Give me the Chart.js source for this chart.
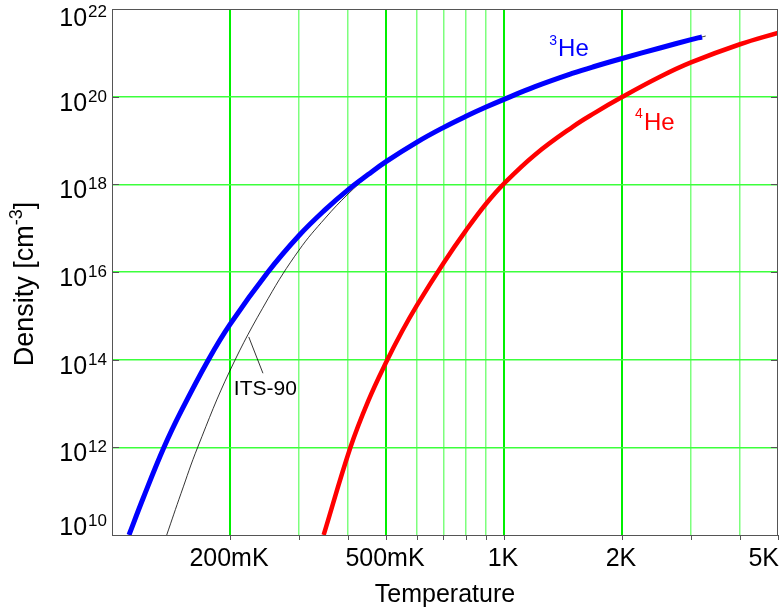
<!DOCTYPE html>
<html>
<head>
<meta charset="utf-8">
<script src="https://cdn.jsdelivr.net/npm/chart.js@4.4.1/dist/chart.umd.min.js"></script>
<style>
  html, body { margin: 0; padding: 0; background: #fff; }
  #wrap { width: 784px; height: 613px; }
</style>
</head>
<body>
<div id="wrap"><canvas id="chart" width="784" height="613"></canvas></div>
<script>
// ── Data ──────────────────────────────────────────────────────
// temperatures in K, densities in cm^-3
const he3T = [0.1105, 0.12, 0.1357, 0.15, 0.1762, 0.2, 0.25, 0.3, 0.35, 0.4, 0.45, 0.5, 0.6, 0.7, 0.8, 0.9, 1.0, 1.2, 1.5, 1.7, 2.0, 2.5, 3.0, 3.2];
const he3N = [1.0e10, 6.8e10, 1.0e12, 6.6e12, 1.0e14, 6.4e14, 1.0e16, 6.8e16, 2.65e17, 7.5e17, 1.67e18, 3.3e18, 9.2e18, 1.97e19, 3.57e19, 5.8e19, 8.7e19, 1.69e20, 3.43e20, 4.88e20, 7.43e20, 1.29e21, 2.0e21, 2.3e21];

const he4T = [0.3467, 0.4058, 0.45, 0.5, 0.55, 0.6, 0.7, 0.8, 0.9, 1.0, 1.2, 1.5, 1.7, 2.0, 2.5, 3.0, 4.0, 5.0];
const he4N = [1.0e10, 1.0e12, 1.12e13, 8.6e13, 4.5e14, 1.76e15, 1.57e16, 8.9e16, 3.6e17, 1.04e18, 4.75e18, 2.08e19, 4.22e19, 9.8e19, 2.85e20, 6.05e20, 1.57e21, 2.86e21];

const itsT = [0.1379, 0.15, 0.1654, 0.2, 0.25, 0.3, 0.35, 0.4, 0.45, 0.5, 0.6, 0.7, 0.8, 0.9, 1.0, 1.2, 1.5, 1.7, 2.0, 2.5, 3.0, 3.2, 3.27];
const itsN = [1.0e10, 8.9e10, 1.0e12, 5.66e13, 2.45e15, 3.16e16, 1.7e17, 6.0e17, 1.55e18, 3.3e18, 9.2e18, 1.97e19, 3.57e19, 5.8e19, 8.7e19, 1.69e20, 3.43e20, 4.88e20, 7.43e20, 1.29e21, 2.0e21, 2.3e21, 2.42e21];

// axis ticks
const xGrid = [0.2, 0.3, 0.4, 0.5, 0.6, 0.7, 0.8, 0.9, 1, 2, 3, 4, 5];
const xMajor = [0.2, 0.5, 1, 2, 5];
const xLabels = ['200mK', '500mK', '1K', '2K', '5K'];
const yExp = [10, 12, 14, 16, 18, 20, 22];

// ── Helpers ───────────────────────────────────────────────────
const FONT = '"Liberation Sans", Arial, Helvetica, sans-serif';
const zip = (xs, ys) => xs.map((x, i) => ({ x, y: ys[i] }));
const pow10 = e => Math.pow(10, e);

// frame, inner ticks, labels and annotations
const decor = {
  id: 'decor',
  afterDatasetsDraw(chart) {
    const { ctx, chartArea: a, scales: { x, y } } = chart;
    ctx.save();
    ctx.strokeStyle = '#555';
    ctx.lineWidth = 1;
    // y ticks, inside, both sides
    yExp.slice(1, -1).forEach(e => {
      const py = Math.round(y.getPixelForValue(pow10(e))) + 0.5;
      ctx.beginPath();
      ctx.moveTo(a.left, py); ctx.lineTo(a.left + 7, py);
      ctx.moveTo(a.right, py); ctx.lineTo(a.right - 7, py);
      ctx.stroke();
    });
    // x ticks, below axis
    xGrid.forEach(v => {
      const px = Math.round(x.getPixelForValue(v)) + 0.5;
      ctx.beginPath();
      ctx.moveTo(px, a.bottom); ctx.lineTo(px, a.bottom + 5);
      ctx.stroke();
    });
    ctx.strokeRect(a.left + 0.5, a.top + 0.5, a.right - a.left - 1, a.bottom - a.top);

    // ITS-90 pointer
    ctx.strokeStyle = '#000';
    ctx.lineWidth = 0.8;
    ctx.beginPath();
    ctx.moveTo(x.getPixelForValue(0.2233), y.getPixelForValue(3.3e14));
    ctx.lineTo(x.getPixelForValue(0.2427), y.getPixelForValue(4.9e13));
    ctx.stroke();
    ctx.restore();
  },
  afterDraw(chart) {
    const { ctx, chartArea: a, scales: { x, y } } = chart;
    ctx.save();
    ctx.fillStyle = '#000';
    ctx.textBaseline = 'alphabetic';

    // y tick labels: 10^e
    yExp.forEach(e => {
      const py = y.getPixelForValue(pow10(e));
      const base = Math.min(Math.max(py + 14, a.top + 17), a.bottom);
      const right = a.left - 5;
      ctx.font = '17px ' + FONT;
      const sw = ctx.measureText(String(e)).width;
      ctx.textAlign = 'right';
      ctx.fillText(String(e), right, base - 9);
      ctx.font = '25px ' + FONT;
      ctx.fillText('10', right - sw - 1, base);
    });

    // x tick labels
    ctx.font = '25px ' + FONT;
    xMajor.forEach((v, i) => {
      const px = x.getPixelForValue(v);
      const w = ctx.measureText(xLabels[i]).width;
      let left = px - w / 2 - 1;
      if (left + w > a.right + 1) left = a.right + 1 - w;
      ctx.textAlign = 'left';
      ctx.fillText(xLabels[i], left, a.bottom + 31);
    });

    // axis titles
    ctx.textAlign = 'center';
    ctx.fillText('Temperature', (a.left + a.right) / 2, a.bottom + 67);

    ctx.save();
    ctx.translate(33, 284);
    ctx.rotate(-Math.PI / 2);
    ctx.textAlign = 'left';
    const f1 = '27px ' + FONT, f2 = '18px ' + FONT;
    ctx.font = f1; const w1 = ctx.measureText('Density [cm').width; const w3 = ctx.measureText(']').width;
    ctx.font = f2; const w2 = ctx.measureText('-3').width;
    let sx = -(w1 + w2 + w3) / 2;
    ctx.font = f1; ctx.fillText('Density [cm', sx, 0); sx += w1;
    ctx.font = f2; ctx.fillText('-3', sx, -11); sx += w2;
    ctx.font = f1; ctx.fillText(']', sx, 0);
    ctx.restore();

    // series labels (anchor = baseline of "He")
    const supLabel = (sup, txt, px, py, color) => {
      ctx.fillStyle = color;
      ctx.textAlign = 'left';
      ctx.font = '14px ' + FONT;
      ctx.fillText(sup, px, py - 11.5);
      const sw = ctx.measureText(sup).width;
      ctx.font = '24px ' + FONT;
      ctx.fillText(txt, px + sw + 1, py);
    };
    supLabel('3', 'He', x.getPixelForValue(1.305), y.getPixelForValue(8.3e20), '#0000ff');
    supLabel('4', 'He', x.getPixelForValue(2.16), y.getPixelForValue(1.74e19), '#ff0000');

    // ITS-90 label
    ctx.fillStyle = '#000';
    ctx.textAlign = 'left';
    ctx.font = '21px ' + FONT;
    ctx.fillText('ITS-90', x.getPixelForValue(0.2045), y.getPixelForValue(1.55e13));
    ctx.restore();
  }
};

const xGridColor = c => {
  const v = c.tick.value;
  if (v >= 5 || v <= 0.1) return 'rgba(0,0,0,0)';
  return xMajor.includes(v) ? '#00f000' : '#7dff7d';
};

new Chart(document.getElementById('chart'), {
  type: 'scatter',
  data: {
    datasets: [
      { label: '3He', data: zip(he3T, he3N), borderColor: '#0000ff', borderWidth: 5, order: 0 },
      { label: '4He', data: zip(he4T, he4N), borderColor: '#ff0000', borderWidth: 4.5, order: 1 },
      { label: 'ITS-90', data: zip(itsT, itsN), borderColor: '#000000', borderWidth: 0.8, order: 2 }
    ].map(d => Object.assign(d, { showLine: true, pointRadius: 0, tension: 0.4, fill: false }))
  },
  options: {
    responsive: false,
    animation: false,
    devicePixelRatio: 1,
    layout: { padding: { left: 112, top: 9, right: 6, bottom: 78 } },
    plugins: { legend: { display: false }, tooltip: { enabled: false } },
    scales: {
      x: {
        type: 'logarithmic', min: 0.1, max: 5,
        afterBuildTicks: s => { s.ticks = xGrid.map(v => ({ value: v })); },
        ticks: { display: false },
        border: { display: false },
        grid: {
          drawTicks: false,
          color: xGridColor,
          lineWidth: c => xMajor.includes(c.tick.value) ? 2 : 1.5
        }
      },
      y: {
        type: 'logarithmic', min: 1e10, max: 1e22,
        afterBuildTicks: s => { s.ticks = yExp.map(e => ({ value: pow10(e) })); },
        ticks: { display: false },
        border: { display: false },
        grid: {
          drawTicks: false,
          color: c => (c.index === 0 || c.index === yExp.length - 1) ? 'rgba(0,0,0,0)' : '#3cff3c',
          lineWidth: 1.5
        }
      }
    }
  },
  plugins: [decor]
});
</script>
</body>
</html>
